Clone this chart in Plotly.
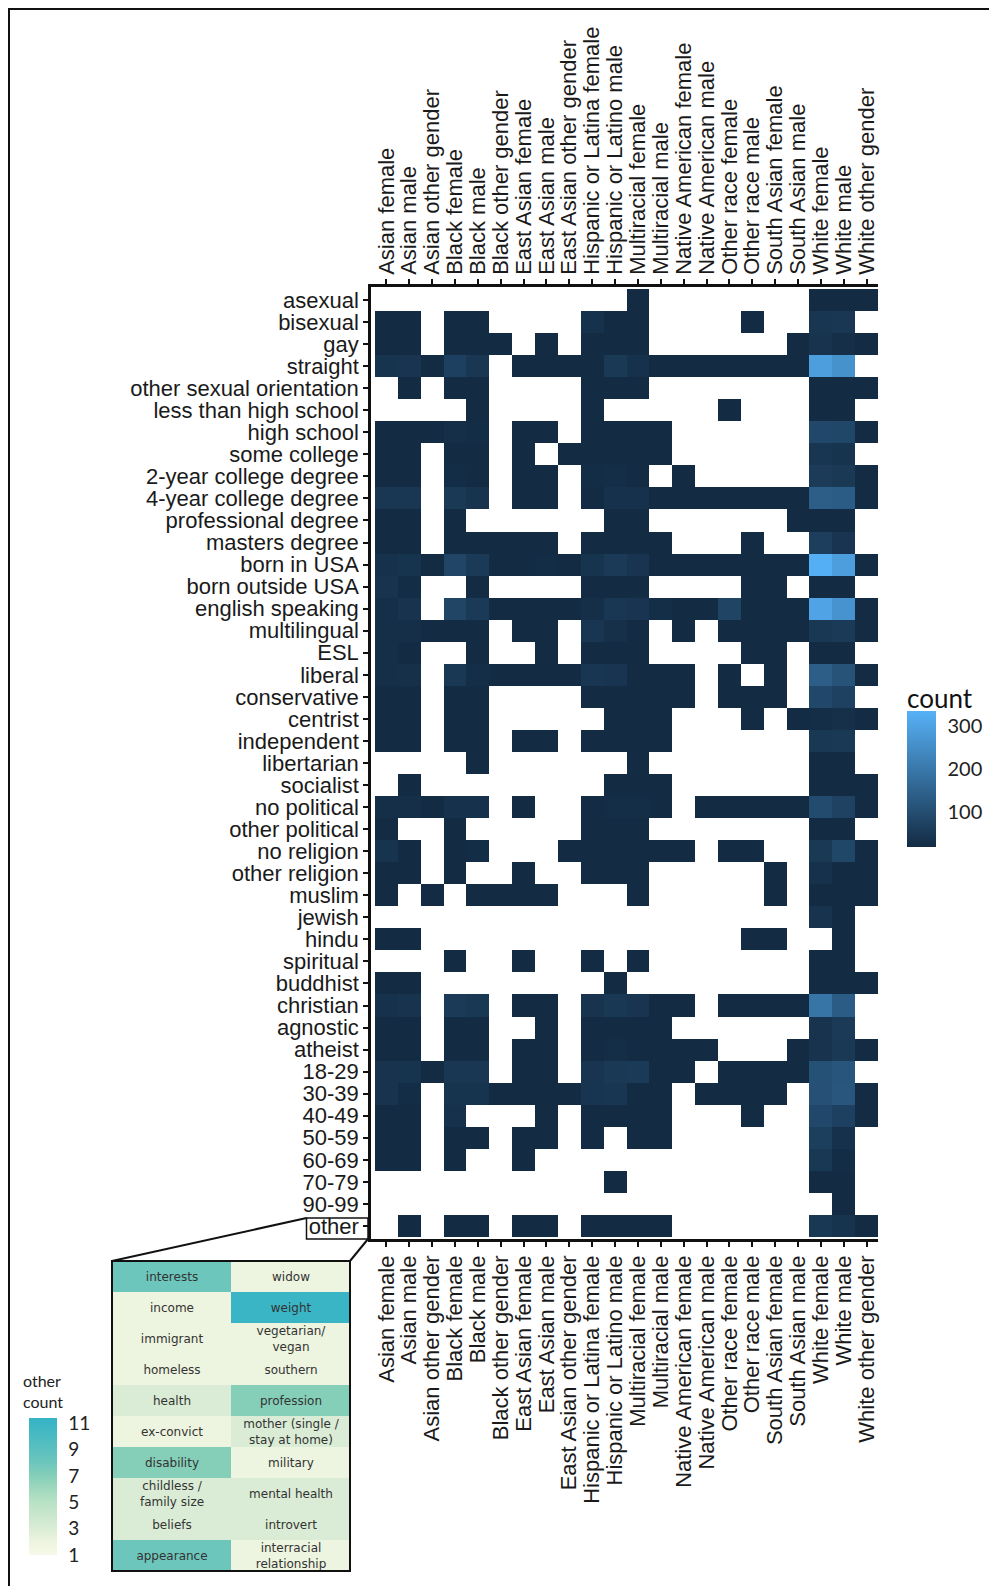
import plotly.graph_objects as go

# ---------------- data ----------------
columns = ["Asian female", "Asian male", "Asian other gender", "Black female", "Black male",
           "Black other gender", "East Asian female", "East Asian male", "East Asian other gender",
           "Hispanic or Latina female", "Hispanic or Latino male", "Multiracial female",
           "Multiracial male", "Native American female", "Native American male",
           "Other race female", "Other race male", "South Asian female", "South Asian male",
           "White female", "White male", "White other gender"]

rows = ["asexual", "bisexual", "gay", "straight", "other sexual orientation",
        "less than high school", "high school", "some college", "2-year college degree",
        "4-year college degree", "professional degree", "masters degree", "born in USA",
        "born outside USA", "english speaking", "multilingual", "ESL", "liberal",
        "conservative", "centrist", "independent", "libertarian", "socialist",
        "no political", "other political", "no religion", "other religion", "muslim",
        "jewish", "hindu", "spiritual", "buddhist", "christian", "agnostic", "atheist",
        "18-29", "30-39", "40-49", "50-59", "60-69", "70-79", "90-99", "other"]

N = None
r_asexual = [N,N,N,N,N,N,N,N,N,N,N,8,N,N,N,N,N,N,N,12,15,5]
r_bisexual = [10,10,N,12,12,N,N,N,N,35,10,12,N,N,N,N,6,N,N,45,48,N]
r_gay = [8,8,N,10,10,5,N,6,N,10,12,10,N,N,N,N,N,N,5,38,30,6]
r_straight = [40,42,10,70,48,N,12,15,10,12,52,35,20,15,15,20,18,15,12,290,262,N]
r_other_sexual = [N,8,N,10,10,N,N,N,N,8,10,8,N,N,N,N,N,N,N,14,18,6]
r_less_hs = [N,N,N,N,5,N,N,N,N,4,N,N,N,N,N,3,N,N,N,10,12,N]
r_high_school = [15,18,4,30,25,N,8,6,N,15,18,15,10,N,N,N,N,N,N,88,85,8]
r_some_college = [12,15,N,12,12,N,6,N,4,12,15,12,6,N,N,N,N,N,N,45,40,N]
r_two_year = [12,12,N,25,12,N,8,8,N,25,28,12,N,5,N,N,N,N,N,58,52,6]
r_four_year = [48,48,N,52,38,N,15,12,N,20,35,35,12,10,8,10,12,10,14,140,135,10]
r_professional = [8,6,N,5,N,N,N,N,N,N,6,5,N,N,N,N,N,N,4,22,15,N]
r_masters = [12,12,N,20,10,4,6,8,N,10,12,12,6,N,N,N,5,N,N,65,42,N]
r_born_usa = [35,40,10,82,55,12,15,25,10,40,55,42,20,15,15,15,15,15,12,330,290,12]
r_born_outside = [38,25,N,N,6,N,N,N,N,15,12,10,N,N,N,N,10,15,N,18,15,N]
r_english = [30,38,N,80,55,12,15,20,12,30,48,42,28,15,12,78,15,15,12,305,265,12]
r_multilingual = [30,30,8,12,12,N,10,10,N,45,32,15,N,6,N,12,15,12,8,50,55,8]
r_esl = [30,18,N,N,6,N,N,4,N,10,12,10,N,N,N,N,8,10,N,12,15,N]
r_liberal = [30,32,N,50,28,8,10,15,8,45,42,15,12,10,N,8,N,6,N,140,115,10]
r_conservative = [12,12,N,12,10,N,N,N,N,10,12,12,8,6,N,6,8,5,N,88,72,N]
r_centrist = [12,12,N,10,10,N,N,N,N,N,10,12,8,N,N,N,5,N,6,28,32,8]
r_independent = [14,15,N,12,12,N,5,6,N,12,12,14,8,N,N,N,N,N,N,50,52,N]
r_libertarian = [N,N,N,N,4,N,N,N,N,N,N,5,N,N,N,N,N,N,N,12,14,N]
r_socialist = [N,5,N,N,N,N,N,N,N,N,6,8,5,N,N,N,N,N,N,12,10,5]
r_no_political = [30,30,8,35,35,N,5,N,N,12,28,28,8,N,8,8,10,8,8,95,75,12]
r_other_political = [6,N,N,5,N,N,N,N,N,6,8,6,N,N,N,N,N,N,N,15,12,N]
r_no_religion = [40,15,N,12,25,N,N,N,6,18,20,15,8,6,N,8,6,N,N,52,85,10]
r_other_religion = [12,12,N,8,N,N,5,N,N,10,10,12,N,N,N,N,N,5,N,35,15,10]
r_muslim = [8,N,4,N,6,5,8,6,N,N,N,6,N,N,N,N,N,5,N,12,15,8]
r_jewish = [N,N,N,N,N,N,N,N,N,N,N,N,N,N,N,N,N,N,N,38,12,N]
r_hindu = [8,6,N,N,N,N,N,N,N,N,N,N,N,N,N,N,5,8,N,N,4,N]
r_spiritual = [N,N,N,5,N,N,4,N,N,4,N,5,N,N,N,N,N,N,N,12,12,N]
r_buddhist = [8,8,N,N,N,N,N,N,N,N,4,N,N,N,N,N,N,N,N,12,14,6]
r_christian = [35,38,N,55,50,N,8,10,N,38,50,42,12,10,N,8,10,10,8,195,135,N]
r_agnostic = [12,15,N,10,10,N,N,6,N,12,15,15,6,N,N,N,N,N,N,38,55,N]
r_atheist = [12,20,N,10,12,N,6,8,N,15,28,15,10,6,5,N,N,N,5,38,52,10]
r_age_18_29 = [38,40,10,48,48,N,10,12,N,42,52,55,15,10,N,8,10,10,10,110,118,N]
r_age_30_39 = [38,25,N,40,40,8,10,12,8,42,45,20,15,N,8,10,10,8,N,108,120,10]
r_age_40_49 = [15,15,N,35,N,N,N,6,N,15,15,15,8,N,N,N,4,N,N,88,70,8]
r_age_50_59 = [12,12,N,10,8,N,6,8,N,8,N,10,8,N,N,N,N,N,N,68,35,N]
r_age_60_69 = [10,10,N,6,N,N,4,N,N,N,N,N,N,N,N,N,N,N,N,50,25,N]
r_age_70_79 = [N,N,N,N,N,N,N,N,N,N,2,N,N,N,N,N,N,N,N,15,18,N]
r_age_90_99 = [N,N,N,N,N,N,N,N,N,N,N,N,N,N,N,N,N,N,N,N,2,N]
r_other = [N,4,N,6,6,N,5,5,N,6,8,8,5,N,N,N,N,N,N,50,40,10]

other_left = ["interests", "income", "immigrant", "homeless", "health", "ex-convict",
              "disability", "childless /<br>family size", "beliefs", "appearance"]
other_left_count = [8, 2, 2, 2, 3, 2, 7, 3, 3, 8]
other_right = ["widow", "weight", "vegetarian/<br>vegan", "southern", "profession",
               "mother (single /<br>stay at home)", "military", "mental health",
               "introvert", "interracial<br>relationship"]
other_right_count = [2, 11, 2, 2, 7, 3, 2, 3, 3, 2]

count_ticks = [100, 200, 300]
other_ticks = [1, 3, 5, 7, 9, 11]

# ---------------- build ----------------
z = [r_asexual, r_bisexual, r_gay, r_straight, r_other_sexual, r_less_hs, r_high_school,
     r_some_college, r_two_year, r_four_year, r_professional, r_masters, r_born_usa,
     r_born_outside, r_english, r_multilingual, r_esl, r_liberal, r_conservative,
     r_centrist, r_independent, r_libertarian, r_socialist, r_no_political,
     r_other_political, r_no_religion, r_other_religion, r_muslim, r_jewish, r_hindu,
     r_spiritual, r_buddhist, r_christian, r_agnostic, r_atheist, r_age_18_29,
     r_age_30_39, r_age_40_49, r_age_50_59, r_age_60_69, r_age_70_79, r_age_90_99, r_other]

OFF = 8
W, H = 997 - OFF, 1586 - OFF


def px_x(X):
    return (X - OFF) / W


def px_y(Y):
    return 1 - (Y - OFF) / H


LABEL_FONT = dict(family="Liberation Sans, Arial, sans-serif", size=22, color="#1a1a1a")
LEG_FONT = "Lato, Open Sans, sans-serif"

ncol, nrow = len(columns), len(rows)
col_w = (878 - 375) / ncol
row_h = (1237 - 289) / nrow
x_lo = -0.5 - (375 - 371) / col_w
y_lo = -0.5 - (289 - 287) / row_h
y_hi = nrow - 0.5 + (1239 - 1237) / row_h

fig = go.Figure()

fig.add_trace(go.Heatmap(
    z=z, x=list(range(ncol)), y=list(range(nrow)),
    colorscale=[[0, "#132B43"], [1, "#56B1F7"]],
    zmin=20, zmax=335, xgap=0, ygap=0, hoverongaps=False,
    colorbar=dict(
        x=px_x(907), xanchor="left", y=px_y(779), yanchor="middle",
        len=136, lenmode="pixels", thickness=29, thicknessmode="pixels",
        xpad=0, ypad=0, outlinewidth=0,
        ticks="outside", ticklen=8, tickcolor="rgba(0,0,0,0)",
        tickvals=count_ticks, ticktext=[str(v) for v in count_ticks],
        tickfont=dict(family=LEG_FONT, size=20, color="#222"),
    ),
    xaxis="x", yaxis="y",
))

# invisible trace so the top axis is drawn
fig.add_trace(go.Scatter(x=[0], y=[0], mode="markers", marker=dict(opacity=0),
                         showlegend=False, hoverinfo="skip", xaxis="x2", yaxis="y"))

inset_z = [[a, b] for a, b in zip(other_left_count, other_right_count)]
inset_text = [[a, b] for a, b in zip(other_left, other_right)]
fig.add_trace(go.Heatmap(
    z=inset_z, text=inset_text, texttemplate="%{text}",
    textfont=dict(family="DejaVu Sans, sans-serif", size=12, color="#333"),
    x=[0, 1], y=list(range(len(other_left))),
    colorscale=[[0, "#F6FAE8"], [0.096, "#EDF4DF"], [0.192, "#DAECD5"], [0.385, "#B9E2C5"],
                [0.577, "#85CFB9"], [0.673, "#6DC6BC"], [0.769, "#5BC0BF"], [0.962, "#3AB5C5"],
                [1, "#38B4C6"]],
    zmin=1, zmax=11.4, xgap=0, ygap=0,
    colorbar=dict(
        x=px_x(29), xanchor="left", y=px_y(1486.5), yanchor="middle",
        len=137, lenmode="pixels", thickness=28, thicknessmode="pixels",
        xpad=0, ypad=0, outlinewidth=0,
        ticks="outside", ticklen=8, tickcolor="rgba(0,0,0,0)",
        tickvals=other_ticks, ticktext=[str(v) for v in other_ticks],
        tickfont=dict(family=LEG_FONT, size=19, color="#222"),
    ),
    xaxis="x3", yaxis="y3",
))

axis_common = dict(showgrid=False, zeroline=False, showline=True, linecolor="#111",
                   linewidth=2.5, ticks="outside", ticklen=5, tickwidth=1.5,
                   tickcolor="#111", tickfont=LABEL_FONT)

fig.update_layout(
    width=W, height=H,
    margin=dict(l=0, r=0, t=0, b=0),
    paper_bgcolor="white", plot_bgcolor="white",
    showlegend=False,
    xaxis=dict(domain=[px_x(371), px_x(878)], range=[x_lo, ncol - 0.5], anchor="y",
               side="bottom", tickmode="array", tickvals=list(range(ncol)),
               ticktext=columns, tickangle=-90, **axis_common),
    xaxis2=dict(domain=[px_x(371), px_x(878)], range=[x_lo, ncol - 0.5], anchor="y",
                overlaying="x", side="top", tickmode="array", tickvals=list(range(ncol)),
                ticktext=columns, tickangle=-90, **axis_common),
    yaxis=dict(domain=[px_y(1239), px_y(287)], range=[y_hi, y_lo], anchor="x",
               tickmode="array", tickvals=list(range(nrow)), ticktext=rows,
               **axis_common),
    xaxis3=dict(domain=[px_x(112), px_x(350)], range=[-0.5, 1.5], anchor="y3",
                showgrid=False, zeroline=False, showticklabels=False, ticks=""),
    yaxis3=dict(domain=[px_y(1571), px_y(1261)], range=[len(other_left) - 0.5, -0.5],
                anchor="x3", showgrid=False, zeroline=False, showticklabels=False, ticks=""),
)

fig.add_annotation(text="count", xref="paper", yref="paper", x=px_x(905), y=px_y(698),
                   xanchor="left", yanchor="middle", showarrow=False,
                   font=dict(family=LEG_FONT, size=26, color="#111"))
fig.add_annotation(text="other<br>count", xref="paper", yref="paper", x=px_x(21), y=px_y(1391),
                   xanchor="left", yanchor="middle", align="left", showarrow=False,
                   font=dict(family=LEG_FONT, size=16, color="#222"))

line = dict(color="#111", width=2)
shapes = [
    # inset frame
    dict(type="rect", xref="paper", yref="paper", x0=px_x(112), x1=px_x(350),
         y0=px_y(1571), y1=px_y(1261), line=line, fillcolor="rgba(0,0,0,0)"),
    # box around "other"
    dict(type="rect", xref="paper", yref="paper", x0=px_x(306.5), x1=px_x(368),
         y0=px_y(1239), y1=px_y(1218), line=dict(color="#111", width=1.5),
         fillcolor="rgba(0,0,0,0)"),
    # connector lines
    dict(type="line", xref="paper", yref="paper", x0=px_x(306.5), y0=px_y(1218),
         x1=px_x(112), y1=px_y(1261), line=line),
    dict(type="line", xref="paper", yref="paper", x0=px_x(368), y0=px_y(1239),
         x1=px_x(350), y1=px_y(1261), line=line),
    # outer frame (top and left)
    dict(type="line", xref="paper", yref="paper", x0=0, x1=1, y0=1 - 1 / H, y1=1 - 1 / H,
         line=line),
    dict(type="line", xref="paper", yref="paper", x0=1 / W, x1=1 / W, y0=0, y1=1, line=line),
]
fig.update_layout(shapes=shapes)

fig.write_html("out.html")
